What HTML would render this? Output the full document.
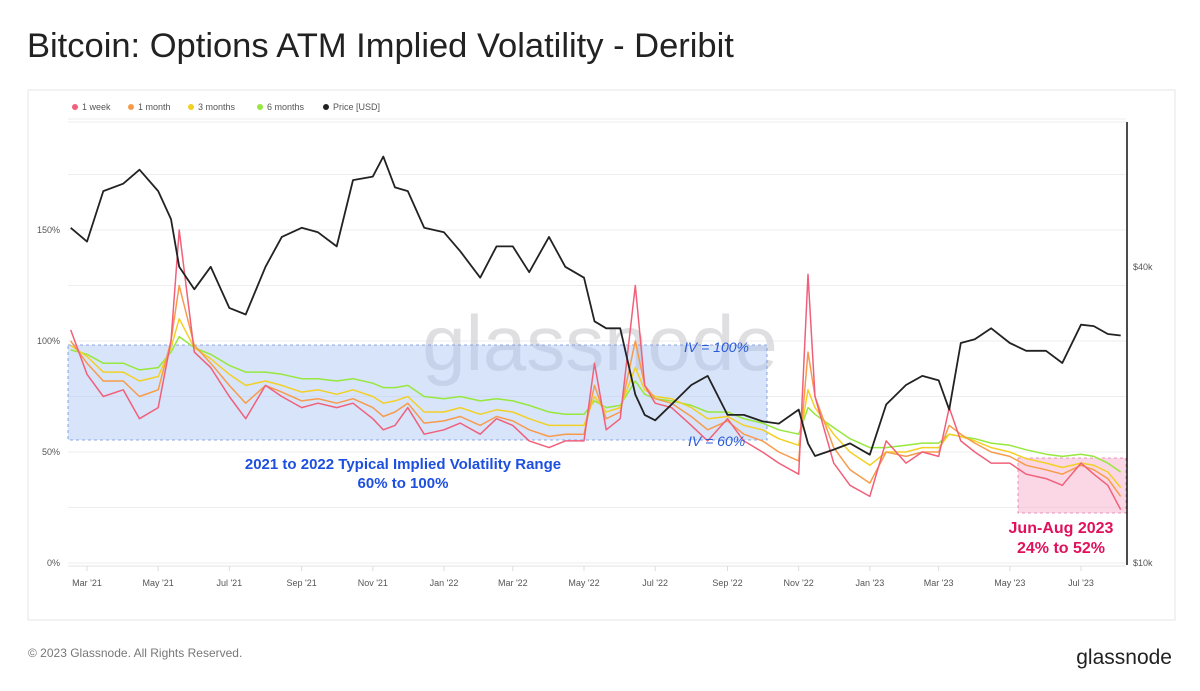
<!DOCTYPE html>
<html><head><meta charset="utf-8"><style>
body{margin:0;background:#fff;font-family:"Liberation Sans",sans-serif;}
#wrap{position:relative;width:1200px;height:691px;overflow:hidden;background:#fff}
</style></head><body>
<div id="wrap">
<svg id="svg" width="1200" height="691">
<text x="27" y="57" font-size="34.5" fill="#222">Bitcoin: Options ATM Implied Volatility - Deribit</text>
<rect x="28" y="90" width="1147" height="530" fill="none" stroke="#e6e6e6"/>
<g id="legend"></g>
<g id="grid"></g>
<text x="600" y="370" font-size="78" fill="#c9c9cf" fill-opacity="0.6" text-anchor="middle">glassnode</text>
<rect x="68" y="345" width="699" height="95" fill="#a9c4f5" fill-opacity="0.45" stroke="#6f8fd8" stroke-dasharray="3,3" stroke-width="0.8"/>
<rect x="1018" y="458" width="108" height="55" fill="#f7b6d0" fill-opacity="0.55" stroke="#e07aa5" stroke-dasharray="3,3" stroke-width="0.8"/>
<g id="series"></g>
<line x1="1127" y1="122" x2="1127" y2="565" stroke="#111" stroke-width="1.5"/>
<g id="axes"></g>
<text x="684" y="352" font-size="14" font-style="italic" fill="#2a5bd7">IV = 100%</text>
<text x="688" y="446" font-size="14" font-style="italic" fill="#2a5bd7">IV = 60%</text>
<text x="403" y="469" font-size="15" font-weight="bold" fill="#1d4fe0" text-anchor="middle">2021 to 2022 Typical Implied Volatility Range</text>
<text x="403" y="488" font-size="15" font-weight="bold" fill="#1d4fe0" text-anchor="middle">60% to 100%</text>
<text x="1061" y="533" font-size="16" font-weight="bold" fill="#e0105a" text-anchor="middle">Jun-Aug 2023</text>
<text x="1061" y="553" font-size="16" font-weight="bold" fill="#e0105a" text-anchor="middle">24% to 52%</text>
<text x="28" y="657" font-size="12" fill="#777">© 2023 Glassnode. All Rights Reserved.</text>
<text x="1172" y="664" font-size="21" fill="#222" text-anchor="end">glassnode</text>
</svg></div>
<script>
const dates=["2021-02-15","2021-03-01","2021-03-15","2021-04-01","2021-04-15","2021-05-01","2021-05-12","2021-05-19","2021-06-01","2021-06-15","2021-07-01","2021-07-15","2021-08-01","2021-08-15","2021-09-01","2021-09-15","2021-10-01","2021-10-15","2021-11-01","2021-11-10","2021-11-20","2021-12-01","2021-12-15","2022-01-01","2022-01-15","2022-02-01","2022-02-15","2022-03-01","2022-03-15","2022-04-01","2022-04-15","2022-05-01","2022-05-10","2022-05-20","2022-06-01","2022-06-14","2022-06-22","2022-07-01","2022-07-15","2022-08-01","2022-08-15","2022-09-01","2022-09-15","2022-10-01","2022-10-15","2022-11-01","2022-11-09","2022-11-15","2022-12-01","2022-12-15","2023-01-01","2023-01-15","2023-02-01","2023-02-15","2023-03-01","2023-03-10","2023-03-20","2023-04-01","2023-04-15","2023-05-01","2023-05-15","2023-06-01","2023-06-15","2023-07-01","2023-07-12","2023-07-24","2023-08-04"];
const price=[48,45,57,59,63,57,50,40,36,40,33,32,40,46,48,47,44,60,61,67,58,57,48,
47,43,38,44,44,39,46,40,38,31,30,30,22,20,19.5,21,23,24,20,20,19.4,19.2,20.5,17.5,16.5,17,17.5,
16.6,21,23,24,23.5,20.5,28,28.5,30,28,27,27,25.5,30.5,30.3,29.2,29];
const iv1w=[105,85,75,78,65,70,100,150,95,88,75,65,80,75,70,72,70,72,65,60,62,70,58,
60,63,58,65,62,55,52,55,55,90,60,65,125,80,72,70,62,55,65,55,50,45,40,130,75,45,35,
30,55,45,50,48,70,55,50,45,45,40,38,35,45,40,35,24];
const iv1m=[100,90,82,82,75,78,100,125,98,90,80,72,80,77,73,74,72,74,70,66,68,72,63,
64,66,62,66,64,60,57,58,58,80,65,68,100,80,74,72,66,60,64,58,55,50,46,95,75,52,42,
36,50,48,50,50,62,58,54,50,48,44,42,40,44,42,38,30];
const iv3m=[98,93,86,86,82,84,97,110,97,92,85,80,82,80,77,78,76,78,75,72,73,75,68,
68,70,67,69,68,65,62,62,62,75,68,70,88,78,75,74,70,65,66,62,60,56,53,78,70,58,50,
44,50,50,52,52,58,57,55,52,50,47,45,43,45,44,41,34];
const iv6m=[96,94,90,90,87,88,95,102,97,94,89,86,86,85,83,83,82,83,81,79,79,80,75,
74,75,73,74,73,71,68,67,67,73,70,71,82,76,74,73,71,68,68,65,63,60,58,70,67,61,56,
52,52,53,54,54,58,57,56,54,53,51,49,48,49,48,45,41];
const xTicks=["2021-03-01","2021-05-01","2021-07-01","2021-09-01","2021-11-01","2022-01-01","2022-03-01","2022-05-01","2022-07-01","2022-09-01","2022-11-01","2023-01-01","2023-03-01","2023-05-01","2023-07-01"];
const xTickLabels=["Mar '21","May '21","Jul '21","Sep '21","Nov '21","Jan '22","Mar '22","May '22","Jul '22","Sep '22","Nov '22","Jan '23","Mar '23","May '23","Jul '23"];
const yTicks=[0,50,100,150];
const yTickLabels=["0%","50%","100%","150%"];
const priceTicks=[10,40];
const priceTickLabels=["$10k","$40k"];
const legendNames=["1 week","1 month","3 months","6 months","Price [USD]"];
const legendColors=["#f0607a","#f79b4b","#f2d024","#96e83c","#222"];

const NS="http://www.w3.org/2000/svg";
const t0=Date.parse("2021-03-01"), t1=Date.parse("2023-07-01");
function xS(d){return 87+(Date.parse(d)-t0)/(t1-t0)*(1081-87);}
function yS(v){return 563-v*2.22;}
function yP(p){return 563-Math.log10(p/10)*492;}
function mk(tag,attrs,parent){const e=document.createElementNS(NS,tag);for(const k in attrs)e.setAttribute(k,attrs[k]);parent.appendChild(e);return e;}
const grid=document.getElementById('grid'),axes=document.getElementById('axes'),ser=document.getElementById('series'),leg=document.getElementById('legend');
for(let v=0;v<=200;v+=25){const y=yS(v);if(y<115)continue;const l=mk('line',{x1:68,x2:1126,y1:y,y2:y,stroke:'#eeeeee'},grid);

}
mk('line',{x1:68,x2:1126,y1:566,y2:566,stroke:'#e3e3e3'},grid);
yTicks.forEach((v,i)=>{const t=mk('text',{x:60,y:yS(v)+3,'font-size':9,fill:'#555','text-anchor':'end'},axes);t.textContent=yTickLabels[i];

});
priceTicks.forEach((p,i)=>{const t=mk('text',{x:1133,y:yP(p)+3,'font-size':9,fill:'#555'},axes);t.textContent=priceTickLabels[i];

});
xTicks.forEach((d,i)=>{const x=xS(d);mk('line',{x1:x,x2:x,y1:566,y2:571,stroke:'#ddd'},axes);const t=mk('text',{x:x,y:586,'font-size':9,fill:'#555','text-anchor':'middle'},axes);t.textContent=xTickLabels[i];

});
function line(vals,fn,color,w,name){const pts=vals.map((v,i)=>xS(dates[i]).toFixed(1)+','+fn(v).toFixed(1)).join(' ');const p=mk('polyline',{points:pts,fill:'none',stroke:color,'stroke-width':w,'stroke-linejoin':'round'},ser);

}
line(iv6m,yS,legendColors[3],1.5,'series-6-months');
line(iv3m,yS,legendColors[2],1.5,'series-3-months');
line(iv1m,yS,legendColors[1],1.5,'series-1-month');
line(iv1w,yS,legendColors[0],1.5,'series-1-week');
line(price,yP,'#222',1.8,'series-price');
let lx=72;legendNames.forEach((n,i)=>{mk('circle',{cx:lx+3,cy:107,r:3,fill:legendColors[i]},leg);const t=mk('text',{x:lx+10,y:110,'font-size':9,fill:'#555'},leg);t.textContent=n;


lx+=[56,60,69,66,70][i];});
mk('line',{x1:68,x2:1126,y1:122,y2:122,stroke:'#eee'},leg);
</script>
</body></html>
